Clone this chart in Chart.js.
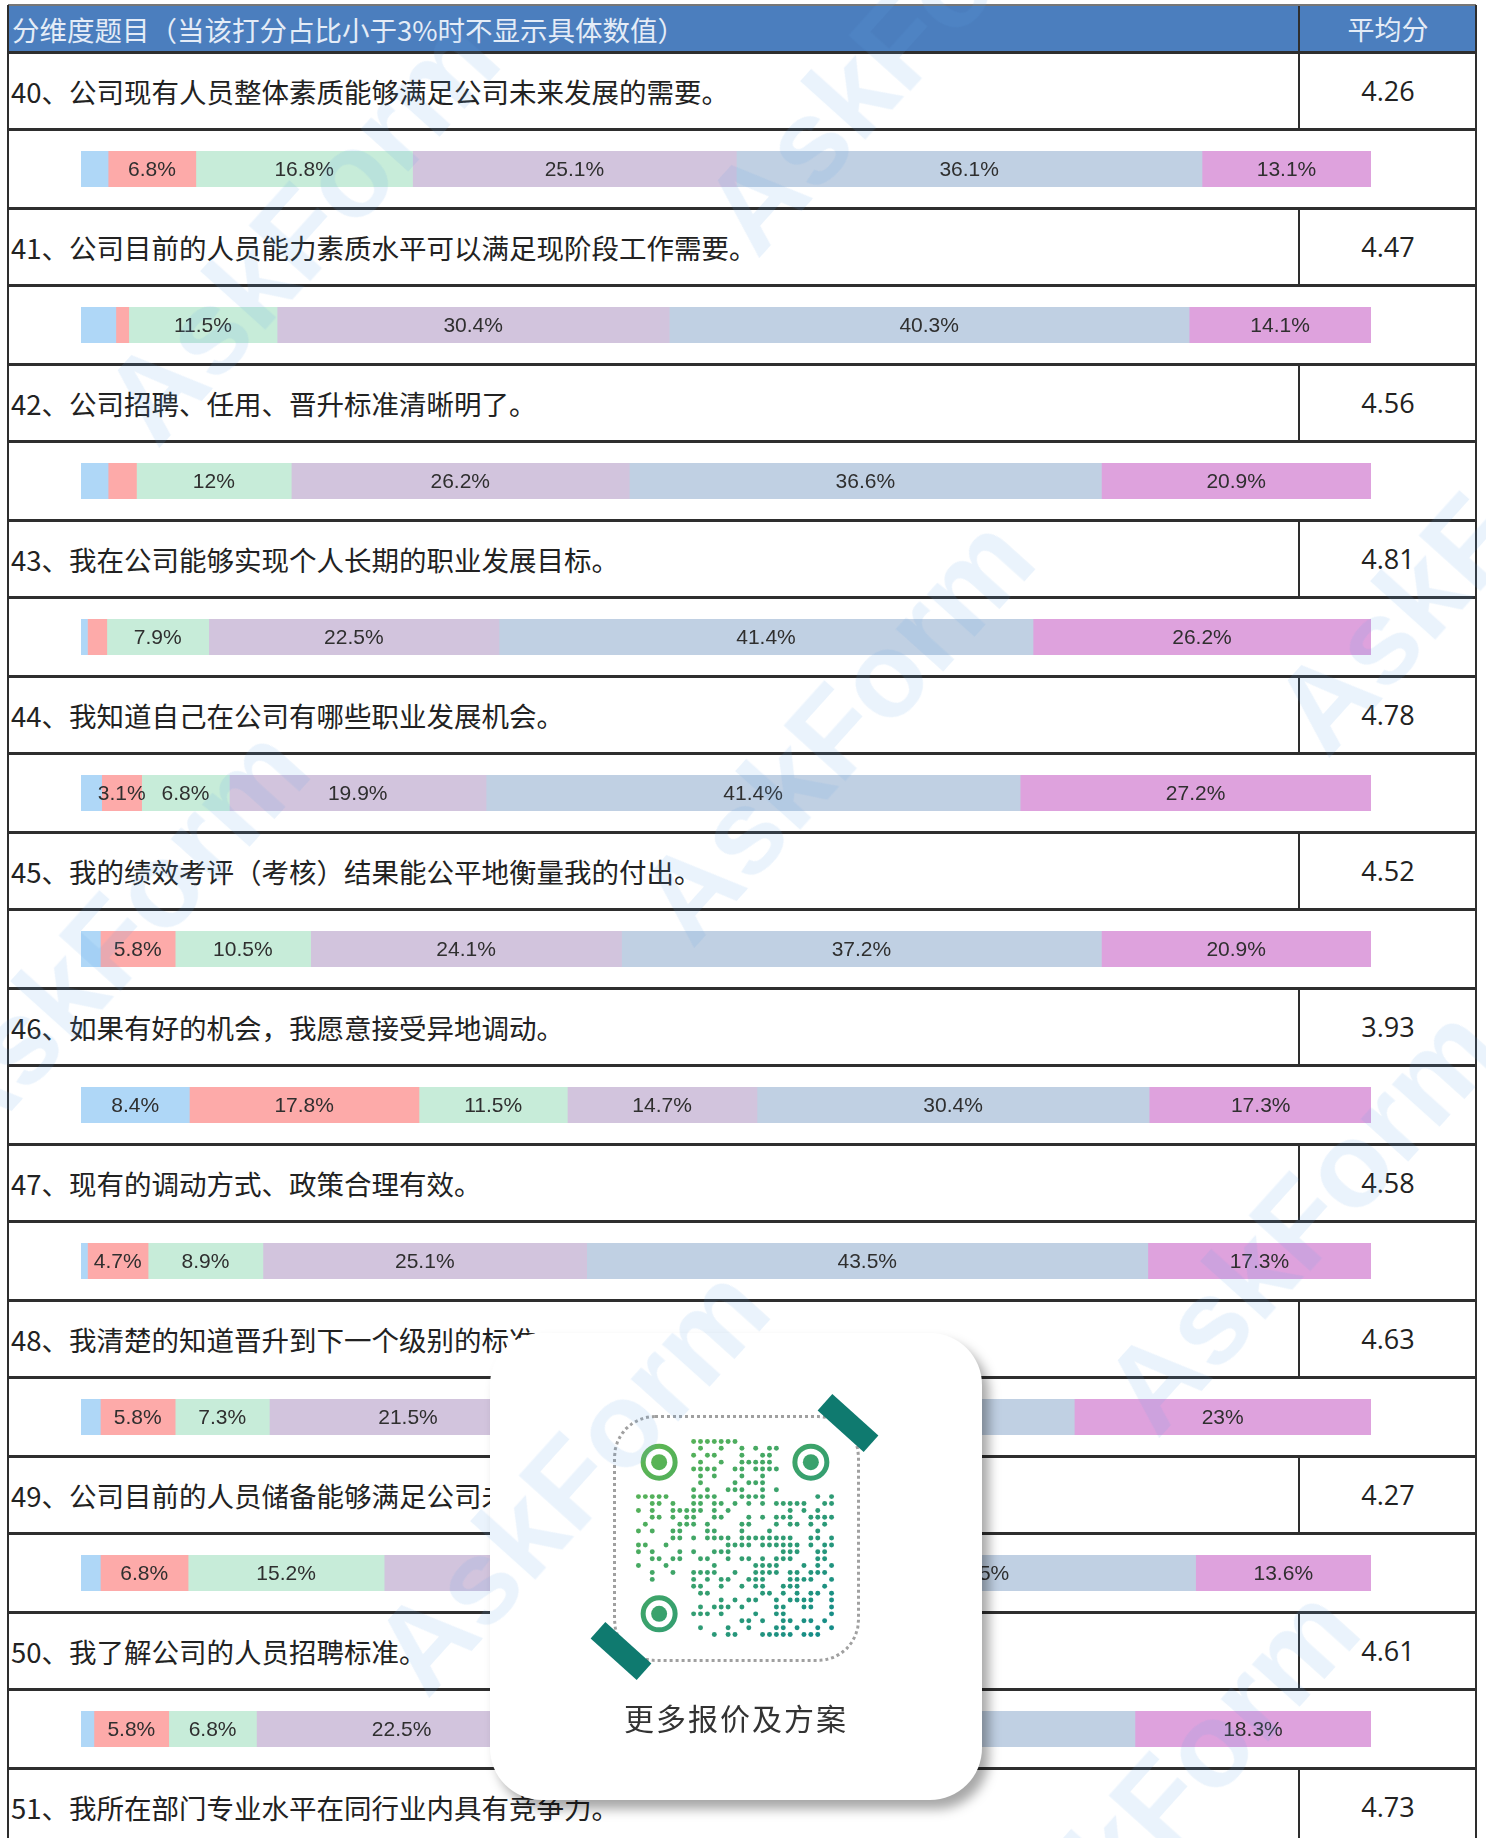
<!DOCTYPE html>
<html>
<head>
<meta charset="utf-8">
<script src="https://cdn.jsdelivr.net/npm/chart.js@4.4.1/dist/chart.umd.min.js"></script>
<style>
  html, body { margin: 0; padding: 0; background: #fff; }
  body { width: 1486px; height: 1838px; overflow: hidden; position: relative;
         font-family: "Noto Sans CJK SC", "Noto Sans", sans-serif; }
  .abs { position: absolute; }
  .hline { position: absolute; left: 8px; width: 1468px; height: 3px; background: #2e2e2e; }
  .vline { position: absolute; width: 2px; background: #2e2e2e; }
  .qtext { position: absolute; left: 11px; font-size: 27.5px; color: #222; white-space: nowrap;
           display: flex; align-items: center; }
  .avg { position: absolute; left: 1300px; width: 176px; text-align: center; font-size: 27px;
         color: #222; font-family: "Open Sans", "Liberation Sans", sans-serif;
         display: flex; align-items: center; justify-content: center; }
  .wm { position: absolute; font-family: "Liberation Sans", Arial, sans-serif; font-weight: bold;
        font-size: 120px; color: rgba(96, 165, 232, 0.13); white-space: nowrap;
        transform-origin: center center; pointer-events: none; }
</style>
</head>
<body>
<div id="table"></div>

<script>
// --- datos de la tabla ---
const headerTitle = "分维度题目（当该打分占比小于3%时不显示具体数值）";
const headerAvg = "平均分";
const questions = [
  "40、公司现有人员整体素质能够满足公司未来发展的需要。",
  "41、公司目前的人员能力素质水平可以满足现阶段工作需要。",
  "42、公司招聘、任用、晋升标准清晰明了。",
  "43、我在公司能够实现个人长期的职业发展目标。",
  "44、我知道自己在公司有哪些职业发展机会。",
  "45、我的绩效考评（考核）结果能公平地衡量我的付出。",
  "46、如果有好的机会，我愿意接受异地调动。",
  "47、现有的调动方式、政策合理有效。",
  "48、我清楚的知道晋升到下一个级别的标准。",
  "49、公司目前的人员储备能够满足公司未来发展的需要。",
  "50、我了解公司的人员招聘标准。",
  "51、我所在部门专业水平在同行业内具有竞争力。"
];
const avgScores = ["4.26", "4.47", "4.56", "4.81", "4.78", "4.52", "3.93", "4.58", "4.63", "4.27", "4.61", "4.73"];

// porcentaje de cada puntuación (1..6), una entrada por pregunta 40-50
const score1 = [2.1, 2.7, 2.1, 0.5, 1.6, 1.5, 8.4, 0.5, 1.5, 1.5, 1.0];
const score2 = [6.8, 1.0, 2.2, 1.5, 3.1, 5.8, 17.8, 4.7, 5.8, 6.8, 5.8];
const score3 = [16.8, 11.5, 12, 7.9, 6.8, 10.5, 11.5, 8.9, 7.3, 15.2, 6.8];
const score4 = [25.1, 30.4, 26.2, 22.5, 19.9, 24.1, 14.7, 25.1, 21.5, 29.4, 22.5];
const score5 = [36.1, 40.3, 36.6, 41.4, 41.4, 37.2, 30.4, 43.5, 40.9, 33.5, 45.6];
const score6 = [13.1, 14.1, 20.9, 26.2, 27.2, 20.9, 17.3, 17.3, 23, 13.6, 18.3];
const scoreSeries = [score1, score2, score3, score4, score5, score6];
const scoreNames = ["1分", "2分", "3分", "4分", "5分", "6分"];
const scoreColors = ["#afd7f7", "#fdaaa9", "#c7ecd9", "#d2c4dd", "#c0d0e3", "#dea2dd"];

// --- layout ---
const HEAD_T = 5, HEAD_B = 52, TEXT_H = 77, PAIR_H = 156;
const COL_X = 1299, BAR_L = 81, BAR_W = 1290, BAR_H = 36;
const table = document.getElementById("table");

function el(cls, css, text) {
  const d = document.createElement("div");
  if (cls) d.className = cls;
  Object.assign(d.style, css);
  if (text !== undefined) d.textContent = text;
  table.appendChild(d);
  return d;
}

// cabecera
el("abs", { left: "8px", top: HEAD_T + "px", width: "1468px", height: (HEAD_B - HEAD_T) + "px", background: "#4b7ebe" });
el("abs", { left: "12px", top: HEAD_T + "px", height: (HEAD_B - HEAD_T) + "px", display: "flex", alignItems: "center",
            fontSize: "27.5px", color: "#e4ecf7", whiteSpace: "nowrap" }, headerTitle);
el("abs", { left: "1300px", width: "176px", top: HEAD_T + "px", height: (HEAD_B - HEAD_T) + "px", display: "flex",
            alignItems: "center", justifyContent: "center", fontSize: "27px", color: "#e4ecf7" }, headerAvg);
el("vline", { left: (COL_X - 1) + "px", top: HEAD_T + "px", height: (HEAD_B - HEAD_T) + "px" });
el("hline", { top: (HEAD_T - 1) + "px", height: "2px", background: "#777" });
el("vline", { left: "7px", top: HEAD_T + "px", height: "1840px" });
el("vline", { left: "1475px", top: HEAD_T + "px", height: "1840px" });

// --- plugin de etiquetas (se ocultan los valores < 3%) ---
const segLabels = {
  id: "segLabels",
  afterDatasetsDraw(chart) {
    const ctx = chart.ctx;
    ctx.save();
    ctx.font = '21px "Liberation Sans", Arial, sans-serif';
    ctx.fillStyle = "#2f2f2f";
    ctx.textAlign = "center";
    ctx.textBaseline = "middle";
    chart.data.datasets.forEach((ds, di) => {
      const meta = chart.getDatasetMeta(di);
      meta.data.forEach((bar, k) => {
        const v = ds.data[k];
        if (v < 3) return;
        const p = bar.getProps(["x", "base", "y"], true);
        ctx.fillText(v + "%", (p.x + p.base) / 2, p.y + 1);
      });
    });
    ctx.restore();
  }
};

function drawBar(i, top) {
  const canvas = document.createElement("canvas");
  canvas.width = BAR_W;
  canvas.height = BAR_H;
  Object.assign(canvas.style, { position: "absolute", left: BAR_L + "px", top: top + "px", width: BAR_W + "px", height: BAR_H + "px" });
  table.appendChild(canvas);
  new Chart(canvas.getContext("2d"), {
    type: "bar",
    data: {
      labels: [questions[i]],
      datasets: scoreSeries.map((s, k) => ({
        label: scoreNames[k],
        data: [s[i]],
        backgroundColor: scoreColors[k],
        borderWidth: 0,
        barPercentage: 1,
        categoryPercentage: 1,
      })),
    },
    options: {
      indexAxis: "y",
      responsive: false,
      animation: false,
      layout: { padding: 0 },
      scales: {
        x: { stacked: true, min: 0, max: 100, display: false },
        y: { stacked: true, display: false },
      },
      plugins: { legend: { display: false }, tooltip: { enabled: false } },
    },
    plugins: [segLabels],
  });
}

// filas
questions.forEach((q, i) => {
  const top = HEAD_B + i * PAIR_H;
  el("hline", { top: (top - 1) + "px" });
  el("qtext", { top: top + "px", height: TEXT_H + "px" }, q);
  el("avg", { top: top + "px", height: TEXT_H + "px" }, avgScores[i]);
  el("vline", { left: (COL_X - 1) + "px", top: top + "px", height: TEXT_H + "px" });
  el("hline", { top: (top + TEXT_H - 1) + "px" });
  if (i < score1.length) {
    drawBar(i, top + TEXT_H + Math.round((PAIR_H - TEXT_H - BAR_H) / 2));
  }
});

// --- marcas de agua ---
const wmSpots = [[300, 230], [900, 40], [835, 730], [110, 940], [570, 1480], [1300, 1220], [1470, 540], [1160, 1800]];
wmSpots.forEach(([x, y]) => {
  el("wm", { left: (x - 260) + "px", top: (y - 70) + "px", width: "520px", textAlign: "center",
             transform: "rotate(-48deg)", zIndex: 30 }, "AskForm");
});

// --- tarjeta QR ---
el("abs", { left: "490px", top: "1333px", width: "492px", height: "467px", background: "#fff",
            borderRadius: "52px", boxShadow: "7px 9px 12px rgba(0,0,0,0.35)", zIndex: 10 });
el("abs", { left: "613px", top: "1415px", width: "241px", height: "241px", border: "3px dotted #a0a0a0",
            borderRadius: "42px", zIndex: 11 });
el("abs", { left: "817px", top: "1412px", width: "62px", height: "22px", background: "#0f7a6f",
            transform: "rotate(42deg)", zIndex: 12 });
el("abs", { left: "590px", top: "1640px", width: "62px", height: "22px", background: "#0f7a6f",
            transform: "rotate(42deg)", zIndex: 12 });
el("abs", { left: "490px", width: "492px", top: "1695px", textAlign: "center", fontSize: "30px",
            letterSpacing: "2px", color: "#333", zIndex: 12 }, "更多报价及方案");

const qr = document.createElement("canvas");
qr.width = 200; qr.height = 200;
Object.assign(qr.style, { position: "absolute", left: "635px", top: "1438px", zIndex: 12 });
table.appendChild(qr);
(function drawQr() {
  const c = qr.getContext("2d");
  const g = c.createLinearGradient(0, 0, 200, 200);
  g.addColorStop(0, "#62b94f");
  g.addColorStop(1, "#118a8a");
  c.fillStyle = g;
  c.strokeStyle = g;
  const n = 29, m = 200 / n;
  const inFinder = (i, j) => (i < 8 && j < 8) || (i > n - 9 && j < 8) || (i < 8 && j > n - 9);
  for (let i = 0; i < n; i++) {
    for (let j = 0; j < n; j++) {
      if (inFinder(i, j)) continue;
      const h = ((i * 73856093) ^ (j * 19349663) ^ (i * j * 83492791)) >>> 0;
      if (h % 100 < 46) {
        c.beginPath();
        c.arc(i * m + m / 2, j * m + m / 2, m * 0.36, 0, Math.PI * 2);
        c.fill();
      }
    }
  }
  [[3.5, 3.5], [n - 3.5, 3.5], [3.5, n - 3.5]].forEach(([a, b]) => {
    c.lineWidth = 5;
    c.beginPath(); c.arc(a * m, b * m, 16, 0, Math.PI * 2); c.stroke();
    c.beginPath(); c.arc(a * m, b * m, 8, 0, Math.PI * 2); c.fill();
  });
})();
</script>
</body>
</html>
